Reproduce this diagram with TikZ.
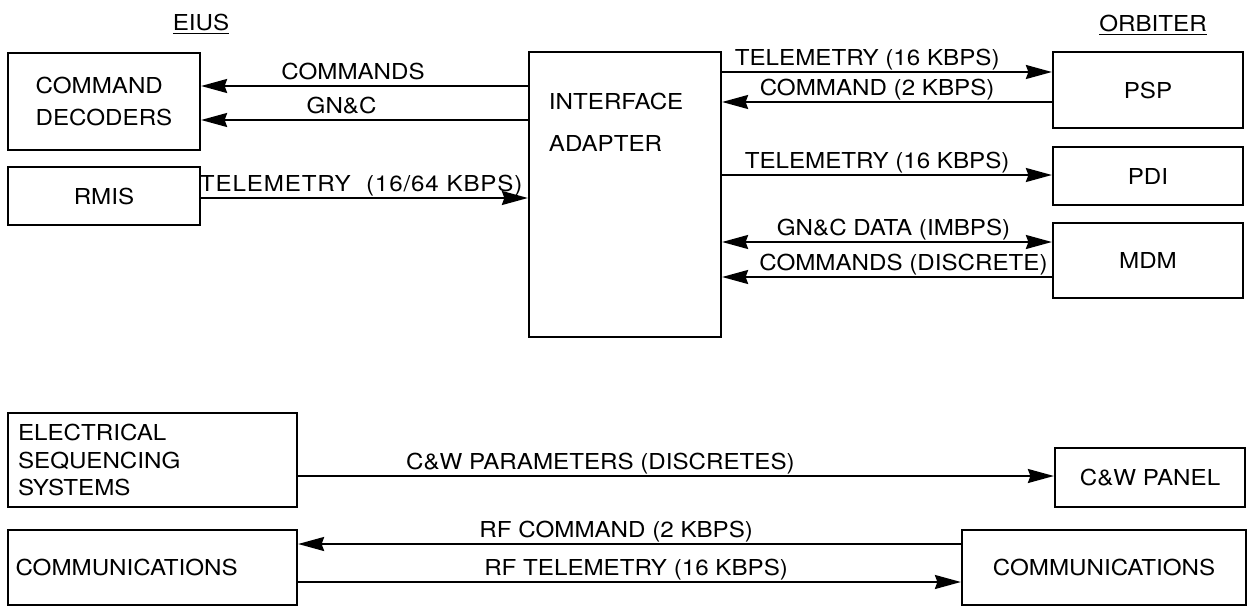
\documentclass[tikz,border=0pt]{standalone}
\usepackage{fontspec}
\setmainfont{TeX Gyre Heros}[FakeStretch=1.1]
\usetikzlibrary{arrows.meta}
\begin{document}
\begin{tikzpicture}[x=0.02cm, y=-0.02cm, >={Stealth[length=5.2mm,width=2.8mm,inset=0.5mm]}, line width=1.1pt,
  font=\fontsize{12.5}{15}\selectfont,
  blk/.style={draw, line width=1.3pt, minimum width=3.8cm, inner sep=0pt},
  lbl/.style={anchor=base, yshift=3.5pt, inner sep=0pt}]
  \useasboundingbox (0,0) rectangle (1251,608);
  % headings
  \node (eius) at (201,24) {\underline{EIUS}};
  \node (orb) at (1153,25) {\underline{ORBITER}};
  % EIUS side
  \node[blk, minimum width=3.84cm, minimum height=1.94cm, align=left, font=\fontsize{12.5}{18.7}\selectfont] (cd) at (104,101.5) {COMMAND\\DECODERS};
  \node[blk, minimum width=3.84cm, minimum height=1.16cm] (rmis) at (104,196) {RMIS};
  \node[blk, minimum width=3.84cm, minimum height=5.7cm] (ia) at (625,194.5) {};
  \node[anchor=north west, inner sep=0pt, align=left, font=\fontsize{12.5}{23.8}\selectfont] (iatxt) at (548,92) {INTERFACE\\ADAPTER};
  % orbiter side
  \node[blk, minimum height=1.52cm] (psp) at (1148,90) {PSP};
  \node[blk, minimum height=1.16cm] (pdi) at (1148,176) {PDI};
  \node[blk, minimum height=1.5cm] (mdm) at (1148,260.5) {MDM};
  % lower part
  \node[blk, minimum width=5.78cm, minimum height=1.88cm, text width=5.38cm, inner xsep=0.2cm, align=left, font=\fontsize{12.5}{15.6}\selectfont] (ess) at (152.5,460) {ELECTRICAL\\SEQUENCING\\SYSTEMS};
  \node[blk, minimum height=1.18cm] (cw) at (1150,477.5) {C\&W PANEL};
  \node[blk, minimum width=5.78cm, minimum height=1.5cm, text width=5.48cm, inner xsep=0.15cm, align=left] (comL) at (152.5,567.5) {COMMUNICATIONS};
  \node[blk, minimum width=5.68cm, minimum height=1.5cm] (comR) at (1104,567.5) {COMMUNICATIONS};
  % EIUS -- interface adapter
  \draw[->] (ia.west |- 0,86) -- node[lbl, pos=0.535] {COMMANDS} (cd.east |- 0,86);
  \draw[->] (ia.west |- 0,120) -- node[lbl, pos=0.57] {GN\&C} (cd.east |- 0,120);
  \draw[->] (rmis.east |- 0,198) -- node[lbl, pos=0.49] {\addfontfeature{LetterSpace=4}TELEMETRY\ \ (16/64 KBPS)} (ia.west |- 0,198);
  % interface adapter -- orbiter
  \draw[->] (ia.east |- 0,72) -- node[lbl, pos=0.44] {TELEMETRY (16 KBPS)} (psp.west |- 0,72);
  \draw[->] (psp.west |- 0,102) -- node[lbl, pos=0.53] {COMMAND (2 KBPS)} (ia.east |- 0,102);
  \draw[->] (ia.east |- 0,175) -- node[lbl, pos=0.47] {TELEMETRY (16 KBPS)} (pdi.west |- 0,175);
  \draw[<->] (ia.east |- 0,242) -- node[lbl, pos=0.52] {GN\&C DATA (IMBPS)} (mdm.west |- 0,242);
  \draw[->] (mdm.west |- 0,277) -- node[lbl, pos=0.45] {COMMANDS (DISCRETE)} (ia.east |- 0,277);
  % lower links
  \draw[->] (ess.east |- 0,476) -- node[lbl, pos=0.4] {C\&W PARAMETERS (DISCRETES)} (cw.west |- 0,476);
  \draw[->] (comR.west |- 0,544) -- node[lbl, pos=0.52] {RF COMMAND (2 KBPS)} (comL.east |- 0,544);
  \draw[->] (comL.east |- 0,582) -- node[lbl, pos=0.51] {RF TELEMETRY (16 KBPS)} (comR.west |- 0,582);
\end{tikzpicture}
\end{document}
